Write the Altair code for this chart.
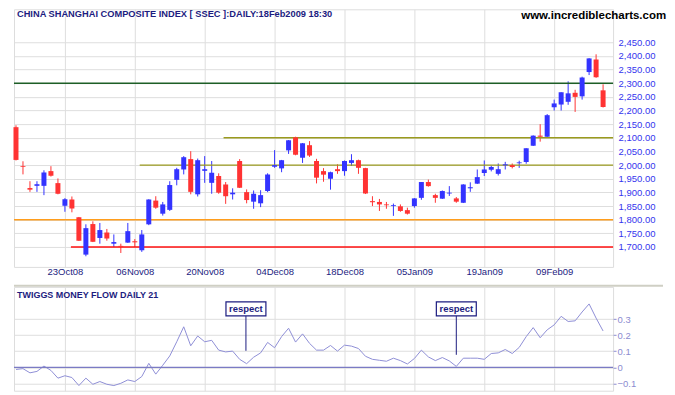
import altair as alt
import pandas as pd

# ---------------- data ----------------
opens = [2139, 1996, 1916, 1924, 1924, 1978, 1934, 1851, 1874, 1809,
         1672, 1784, 1733, 1753, 1712, 1704, 1716, 1721, 1688, 1783,
         1870, 1822, 1836, 1946, 1984, 2022, 1893, 1979, 1935, 1960,
         1929, 1893, 2015, 1901, 1866, 1860, 1905, 1994, 1988, 2054,
         2102, 2027, 2073, 2015, 1978, 1950, 1985, 1978, 2008, 2018,
         1989, 1868, 1865, 1856, 1850, 1849, 1835, 1850, 1880, 1938,
         1890, 1877, 1896, 1878, 1862, 1915, 1932, 1971, 1983, 1968,
         1999, 2000, 2007, 2011, 2071, 2108, 2104, 2212, 2222, 2232,
         2265, 2252, 2341, 2387, 2274]
highs = [2146, 2014, 1941, 1941, 1981, 1996, 1951, 1879, 1885, 1810,
         1783, 1794, 1788, 1766, 1746, 1712, 1788, 1729, 1762, 1875,
         1886, 1865, 1941, 1990, 2033, 2051, 2024, 2033, 2015, 1970,
         1938, 1915, 2022, 1911, 1907, 1908, 1970, 2055, 2019, 2092,
         2104, 2081, 2088, 2023, 1989, 1976, 2003, 2017, 2040, 2020,
         1990, 1886, 1876, 1865, 1859, 1856, 1844, 1879, 1938, 1947,
         1895, 1907, 1923, 1883, 1930, 1937, 1984, 2017, 1998, 2006,
         2012, 2006, 2016, 2062, 2109, 2150, 2187, 2240, 2267, 2307,
         2276, 2324, 2392, 2406, 2296]
lows = [2017, 1966, 1902, 1902, 1890, 1958, 1893, 1829, 1827, 1722,
        1666, 1718, 1712, 1723, 1700, 1678, 1715, 1700, 1682, 1780,
        1840, 1815, 1832, 1926, 1966, 1893, 1885, 1935, 1895, 1895,
        1858, 1874, 1916, 1860, 1840, 1846, 1901, 1990, 1974, 2041,
        2036, 2008, 2030, 1933, 1939, 1910, 1968, 1961, 1997, 1968,
        1894, 1850, 1832, 1840, 1814, 1829, 1819, 1844, 1873, 1921,
        1862, 1876, 1887, 1862, 1861, 1902, 1931, 1960, 1977, 1962,
        1984, 1988, 1990, 2005, 2070, 2086, 2103, 2200, 2200, 2221,
        2195, 2240, 2330, 2320, 2211]
closes = [2019, 1993, 1910, 1930, 1973, 1961, 1895, 1875, 1841, 1723,
          1769, 1719, 1762, 1731, 1718, 1700, 1758, 1717, 1746, 1874,
          1844, 1856, 1927, 1985, 2029, 1902, 2018, 1985, 1972, 1899,
          1886, 1899, 1917, 1872, 1895, 1890, 1966, 2000, 2018, 2091,
          2038, 2080, 2035, 1954, 1965, 1974, 1978, 2015, 2018, 1990,
          1896, 1864, 1856, 1853, 1853, 1832, 1822, 1878, 1938, 1923,
          1880, 1905, 1899, 1866, 1929, 1919, 1956, 1984, 1993, 1985,
          2003, 1993, 2010, 2062, 2108, 2104, 2183, 2226, 2267, 2263,
          2250, 2321, 2391, 2322, 2213]
money_flow = [-0.013, -0.008, -0.034, -0.025, 0.008, -0.019, -0.067, -0.052, -0.063, -0.113,
              -0.067, -0.105, -0.088, -0.105, -0.113, -0.099, -0.078, -0.088, -0.057, 0.025,
              -0.042, 0.013, 0.071, 0.159, 0.252, 0.134, 0.195, 0.159, 0.168, 0.107,
              0.096, 0.101, 0.050, 0.023, 0.063, 0.090, 0.155, 0.122, 0.191, 0.243,
              0.157, 0.208, 0.149, 0.107, 0.107, 0.136, 0.101, 0.138, 0.132, 0.117,
              0.069, 0.050, 0.044, 0.038, 0.057, 0.042, 0.021, 0.055, 0.107, 0.065,
              0.042, 0.061, 0.040, 0.006, 0.057, 0.057, 0.057, 0.050, 0.086, 0.090,
              0.111, 0.086, 0.124, 0.191, 0.247, 0.184, 0.233, 0.264, 0.317, 0.285,
              0.289, 0.344, 0.394, 0.306, 0.226]

tick_pos = [7, 17, 27, 37, 47, 57, 67, 77]
tick_labels = ["23Oct08", "06Nov08", "20Nov08", "04Dec08",
               "18Dec08", "05Jan09", "19Jan09", "09Feb09"]
price_ticks = list(range(1700, 2451, 50))
mf_ticks = [-0.1, 0, 0.1, 0.2, 0.3]

level_values = [2300, 2100, 2000, 1800, 1700]
level_start = [-0.2857, 29.7, 17.7, -0.2857, 7.86]
level_colors = ["#1d5e26", "#9a9a1e", "#9a9a1e", "#ff9d1c", "#ff1010"]

respect_x = [32.9, 63.0]
respect_box = [0.363, 0.363]
respect_top = [0.32, 0.32]
respect_end = [0.103, 0.078]

title_text = "CHINA SHANGHAI COMPOSITE INDEX [ SSEC ]:DAILY:18Feb2009 18:30"
logo_text = "www.incrediblecharts.com"
mf_title = "TWIGGS MONEY FLOW DAILY 21"

# ---------------- build ----------------
n = len(closes)
assert len(opens) == len(highs) == len(lows) == n == len(money_flow)
X_MIN, X_MAX = -0.2857, 85.43

df = pd.DataFrame({"i": list(range(n)), "open": opens, "high": highs,
                   "low": lows, "close": closes})
df["dir"] = ["up" if c >= o else "down" for o, c in zip(opens, closes)]

xs = alt.Scale(domain=[X_MIN, X_MAX], nice=False, zero=False, padding=0)
ys = alt.Scale(domain=[1627, 2571], nice=False, zero=False, padding=0)
GRID = "#dedede"
NAVY = "#1c1c80"

lab_expr = "[" + ",".join("'%s'" % t for t in tick_labels) + "][indexof([" + \
    ",".join(str(p) for p in tick_pos) + "], datum.value)]"

x_axis = alt.Axis(values=tick_pos, labelExpr=lab_expr, grid=True, gridColor=GRID,
                  gridWidth=1, ticks=False, domain=False, labelOverlap=False,
                  labelFontSize=9.5, labelColor=NAVY, labelPadding=0, title=None)
y_axis = alt.Axis(orient="right", values=price_ticks, format=",.2f", grid=True,
                  gridColor=GRID, gridWidth=1, ticks=False, domain=False,
                  labelOverlap=False, labelFlush=False, labelPadding=5,
                  labelFontSize=9.5, labelColor="#3535ee", title=None)

color = alt.Color("dir:N", scale=alt.Scale(domain=["up", "down"],
                                          range=["#3333ff", "#ff3333"]), legend=None)

wicks = alt.Chart(df).mark_rule(strokeWidth=1).encode(
    x=alt.X("i:Q", scale=xs, axis=x_axis),
    y=alt.Y("low:Q", scale=ys, axis=y_axis),
    y2="high:Q",
    color=color,
)
bodies = alt.Chart(df).mark_bar(size=5).encode(
    x=alt.X("i:Q", scale=xs, axis=x_axis),
    y=alt.Y("open:Q", scale=ys, axis=y_axis),
    y2="close:Q",
    color=color,
)

lv = pd.DataFrame({"start": level_start, "end": [X_MAX] * len(level_values),
                   "level": level_values, "col": level_colors})
levels = alt.Chart(lv).mark_rule(strokeWidth=1.4).encode(
    x=alt.X("start:Q", scale=xs, axis=x_axis), x2="end:Q",
    y=alt.Y("level:Q", scale=ys, axis=y_axis),
    color=alt.Color("col:N", scale=None),
)

title_mark = alt.Chart(pd.DataFrame({"t": [title_text]})).mark_text(
    align="left", baseline="top", fontSize=9.3, fontWeight="bold", color=NAVY
).encode(x=alt.value(3), y=alt.value(1), text="t:N")
logo_mark = alt.Chart(pd.DataFrame({"t": [logo_text]})).mark_text(
    align="left", baseline="top", fontSize=11.5, fontWeight="bold", color="#000000"
).encode(x=alt.value(508), y=alt.value(1), text="t:N")

upper = alt.layer(wicks, levels, bodies, title_mark, logo_mark).properties(
    width=600, height=258)

# lower panel
mf = pd.DataFrame({"i": list(range(n)), "mf": money_flow})
ys2 = alt.Scale(domain=[-0.145, 0.5], nice=False, zero=False, padding=0)
x_axis2 = alt.Axis(values=tick_pos, labels=False, ticks=False, grid=True,
                   gridColor=GRID, gridWidth=1, domain=False, title=None)
y_axis2 = alt.Axis(orient="right", values=mf_ticks, grid=True, gridColor=GRID,
                   gridWidth=1, ticks=True, tickSize=3, tickColor="#8c8cd0",
                   domain=False, labelOverlap=False, labelFlush=False,
                   labelPadding=1, labelFontSize=9.5, labelColor="#8c8cd0",
                   labelExpr="datum.value == 0 ? '0' : format(datum.value, '.1f')",
                   title=None)

mf_line = alt.Chart(mf).mark_line(color="#8f8fd6", strokeWidth=1).encode(
    x=alt.X("i:Q", scale=xs, axis=x_axis2),
    y=alt.Y("mf:Q", scale=ys2, axis=y_axis2),
)
zero = alt.Chart(pd.DataFrame({"z": [0]})).mark_rule(color="#7b7bc4", strokeWidth=1.2).encode(
    y=alt.Y("z:Q", scale=ys2, axis=y_axis2))

sep = alt.Chart(pd.DataFrame({"s": [0]})).mark_rule(color="#cfcfc4", strokeWidth=2).encode(
    x=alt.value(0), x2=alt.value(650), y=alt.value(-1))

mf_title_mark = alt.Chart(pd.DataFrame({"t": [mf_title]})).mark_text(
    align="left", baseline="top", fontSize=9, fontWeight="bold", color=NAVY
).encode(x=alt.value(3), y=alt.value(4), text="t:N")

rs = pd.DataFrame({"x": respect_x, "box": respect_box, "top": respect_top,
                   "end": respect_end, "t": ["respect"] * len(respect_x)})
pointers = alt.Chart(rs).mark_rule(color=NAVY, strokeWidth=1).encode(
    x=alt.X("x:Q", scale=xs, axis=x_axis2),
    y=alt.Y("top:Q", scale=ys2, axis=y_axis2), y2="end:Q")
boxes = alt.Chart(rs).mark_point(
    shape="M-1,-0.35L1,-0.35L1,0.35L-1,0.35Z", size=1600, filled=False,
    fill="#ffffff", fillOpacity=1, stroke=NAVY, strokeWidth=1.2, opacity=1
).encode(x=alt.X("x:Q", scale=xs, axis=x_axis2),
         y=alt.Y("box:Q", scale=ys2, axis=y_axis2))
box_text = alt.Chart(rs).mark_text(fontSize=9.5, fontWeight="bold", color=NAVY,
                                   baseline="middle", align="center").encode(
    x=alt.X("x:Q", scale=xs, axis=x_axis2),
    y=alt.Y("box:Q", scale=ys2, axis=y_axis2), text="t:N")

lower = alt.layer(mf_line, sep, zero, pointers, boxes, box_text, mf_title_mark).properties(
    width=600, height=104)

chart = alt.vconcat(upper, lower, spacing=20, bounds="flush").properties(
    padding={"left": 4, "top": 0, "right": 0, "bottom": 0},
    background="#ffffff",
).configure_view(stroke="#d8d8d8").configure(font="Liberation Sans")

chart.save("out.html", embed_options={"renderer": "svg", "actions": False})
